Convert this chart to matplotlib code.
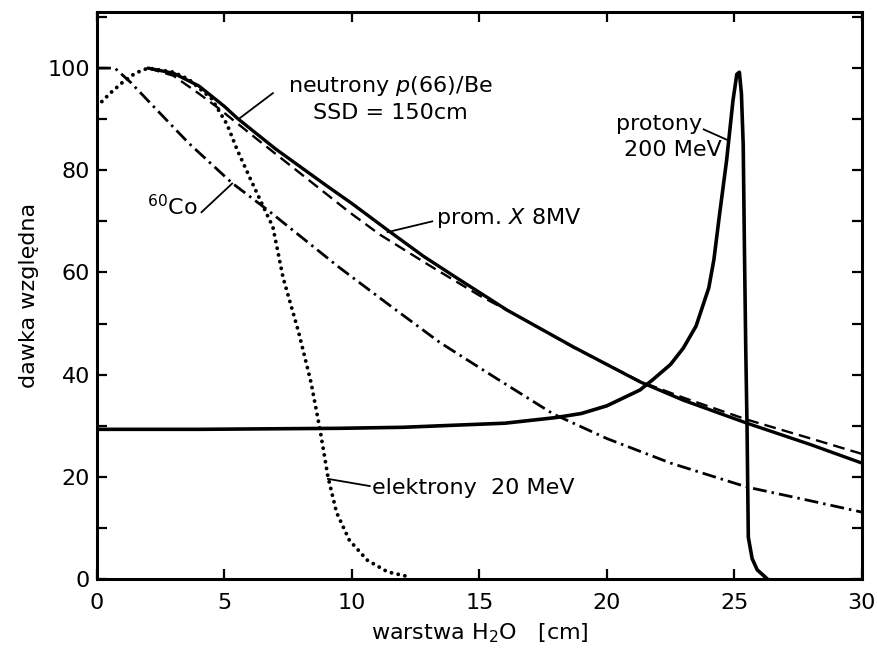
import matplotlib
matplotlib.use("Agg")
import matplotlib.pyplot as plt
from matplotlib.ticker import MultipleLocator

plt.rcParams['font.family'] = ['DejaVu Sans']

# neutrony p(66)/Be (solid)
neut_x = [2, 3, 4, 5, 5.5, 7, 9, 10, 11.4, 12.8, 14, 16.1, 18.7, 21.3, 23, 25.5, 28, 30]
neut_y = [100, 99, 96.5, 92.5, 90.2, 84.2, 77, 73.5, 68.3, 63.2, 59.3, 52.6, 45.4, 38.6, 35, 30.5, 26.3, 22.7]

# prom. X 8 MV (dashed)
xray_x = [2, 3, 4, 4.7, 6.3, 8, 9.9, 11.1, 13, 15, 16.5, 18.7, 21.3, 23, 25.5, 28, 30]
xray_y = [100, 98.5, 95, 92.4, 86, 79.3, 71.8, 67.4, 61.5, 55.5, 51.5, 45.3, 38.7, 35.5, 31.2, 27.5, 24.5]

# 60Co (dash-dot)
co_x = [0, 0.7, 1.3, 2.35, 3.6, 5.3, 6.7, 8, 9.5, 11.5, 13.45, 15.5, 17.9, 20, 22.5, 25.5, 28, 30]
co_y = [100, 100, 97.3, 91.8, 85.3, 77.5, 72.2, 67, 61, 53.5, 46.3, 39.8, 32.3, 27.5, 22.7, 18, 15.3, 13.1]

# elektrony 20 MeV (dotted)
el_x = [0, 0.5, 1, 1.5, 2, 3, 3.6, 4.5, 5.1, 5.5, 6, 6.4, 6.9, 7.3, 7.9, 8.4, 8.75, 9.06, 9.4, 9.9, 10.6, 11.4, 12.1]
el_y = [92.5, 95, 97.2, 99, 100, 99.2, 97.8, 94, 89, 84, 78.5, 74.2, 68.9, 59, 48.5, 38.4, 29.2, 20, 13, 7.6, 3.7, 1.4, 0.6]

# protony 200 MeV (solid)
pr_x = [0, 4, 9.5, 12, 16, 18, 19, 20, 21.3, 21.8, 22.5, 23, 23.5, 24, 24.2, 24.4, 24.7, 24.95, 25.1, 25.2, 25.28, 25.35, 25.4, 25.45, 25.5, 25.55, 25.7, 25.9, 26.3]
pr_y = [29.3, 29.3, 29.5, 29.7, 30.5, 31.6, 32.4, 33.9, 37, 39, 42, 45.2, 49.5, 57, 62.5, 70.5, 82, 93.7, 98.8, 99.2, 95, 85, 64, 45, 30, 8.2, 4, 1.8, 0]

x_ticks = [0, 5, 10, 15, 20, 25, 30]
y_ticks = [0, 20, 40, 60, 80, 100]

fig = plt.figure(figsize=(8.77, 6.61), dpi=100)
ax = fig.add_axes([0.1106, 0.124, 0.872, 0.858])

ax.plot(neut_x, neut_y, color='black', lw=2.4, solid_capstyle='round', solid_joinstyle='round')
ax.plot(xray_x, xray_y, color='black', lw=1.7, linestyle=(0, (5, 2.6)))
ax.plot(co_x, co_y, color='black', lw=2.0, linestyle=(0, (5, 1.8, 0.9, 1.8)))
ax.plot(el_x, el_y, color='black', lw=2.8, linestyle=(0, (0.01, 1.75)), dash_capstyle='round')
ax.plot(pr_x, pr_y, color='black', lw=2.6, solid_capstyle='round', solid_joinstyle='round')

ax.set_xlim(0, 30)
ax.set_ylim(0, 111)
ax.set_xticks(x_ticks)
ax.set_yticks(y_ticks)
ax.yaxis.set_minor_locator(MultipleLocator(10))
ax.tick_params(axis='both', which='both', direction='in', length=7, width=1.6,
               top=True, right=True, labelsize=16)
ax.tick_params(axis='x', which='major', pad=10)
ax.tick_params(axis='y', which='major', pad=5)
for s in ax.spines.values():
    s.set_linewidth(2.2)

ax.set_xlabel('warstwa H$_2$O   [cm]', fontsize=16, labelpad=6)
ax.set_ylabel('dawka względna', fontsize=16, labelpad=6)

fs = 16
ax.text(11.5, 96.4, 'neutrony $p$(66)/Be', fontsize=fs, ha='center', va='center')
ax.text(11.5, 91.3, 'SSD = 150cm', fontsize=fs, ha='center', va='center')
ax.plot([6.9, 5.6], [95.1, 90.2], color='black', lw=1.3)

ax.text(2.95, 72.8, '$^{60}$Co', fontsize=fs, ha='center', va='center')
ax.plot([4.1, 5.3], [71.8, 77.4], color='black', lw=1.3)

ax.text(13.3, 70.6, 'prom. $X$ 8MV', fontsize=fs, ha='left', va='center')
ax.plot([13.15, 11.4], [70.0, 67.9], color='black', lw=1.3)

ax.text(23.75, 89.0, 'protony', fontsize=fs, ha='right', va='center')
ax.text(24.5, 84.0, '200 MeV', fontsize=fs, ha='right', va='center')
ax.plot([23.8, 24.7], [88.0, 86.0], color='black', lw=1.3)

ax.text(10.8, 17.8, 'elektrony  20 MeV', fontsize=fs, ha='left', va='center')
ax.plot([10.7, 9.06], [18.2, 19.6], color='black', lw=1.3)

fig.savefig('out.png', dpi=100)
